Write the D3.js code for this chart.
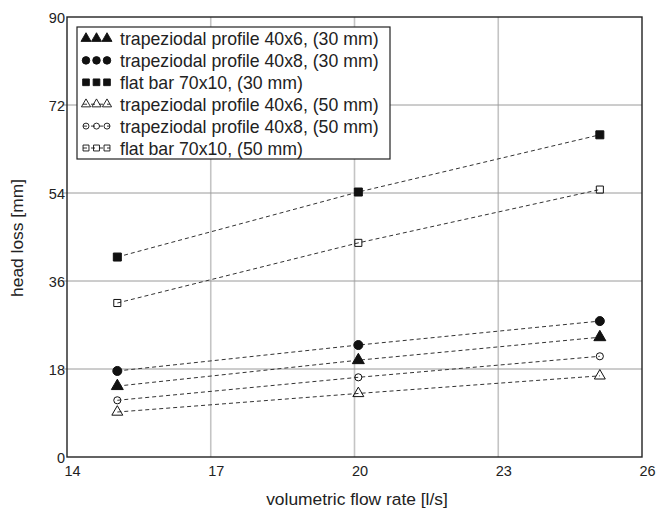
<!DOCTYPE html>
<html>
<head>
<meta charset="utf-8">
<script src="https://cdn.jsdelivr.net/npm/d3@7"></script>
<style>
  body { margin: 0; background: #fff; }
  svg { font-family: "Liberation Sans", Arial, sans-serif; }
</style>
</head>
<body>
<svg id="chart" width="656" height="513"></svg>
<script>
// flow rates (l/s) and head loss (mm)
const flow = [15.05, 20.08, 25.12]
const trap40x6_30 = [14.5, 19.8, 24.5]
const trap40x8_30 = [17.6, 22.9, 27.8]
const flat70x10_30 = [40.9, 54.2, 65.9]
const trap40x6_50 = [9.2, 13.0, 16.6]
const trap40x8_50 = [11.6, 16.3, 20.6]
const flat70x10_50 = [31.5, 43.8, 54.7]

const seriesNames = [
  'trapeziodal profile 40x6, (30 mm)',
  'trapeziodal profile 40x8, (30 mm)',
  'flat bar 70x10, (30 mm)',
  'trapeziodal profile 40x6, (50 mm)',
  'trapeziodal profile 40x8, (50 mm)',
  'flat bar 70x10, (50 mm)'
]
const xTicks = [14, 17, 20, 23, 26]
const yTicks = [0, 18, 36, 54, 72, 90]

const series = [
  { name: seriesNames[0], values: trap40x6_30, shape: d3.symbolTriangle, filled: true, size: 62 },
  { name: seriesNames[1], values: trap40x8_30, shape: d3.symbolCircle, filled: true, size: 64 },
  { name: seriesNames[2], values: flat70x10_30, shape: d3.symbolSquare, filled: true, size: 64 },
  { name: seriesNames[3], values: trap40x6_50, shape: d3.symbolTriangle, filled: false, size: 52 },
  { name: seriesNames[4], values: trap40x8_50, shape: d3.symbolCircle, filled: false, size: 40 },
  { name: seriesNames[5], values: flat70x10_50, shape: d3.symbolSquare, filled: false, size: 50 }
]

const svg = d3.select('#chart')
const plotL = 67, plotR = 642, plotT = 17, plotB = 457

const x = d3.scaleLinear().domain([14, 26]).range([plotL, plotR])
const y = d3.scaleLinear().domain([0, 90]).range([plotB, plotT])

// grid
svg.append('g')
  .selectAll('line')
  .data(xTicks.slice(1, -1))
  .enter()
  .append('line')
  .attr('x1', d => x(d)).attr('x2', d => x(d))
  .attr('y1', plotT).attr('y2', plotB)
  .attr('stroke', '#c4c4c4')
  .attr('stroke-width', 1.6)

svg.append('g')
  .selectAll('line')
  .data(yTicks.slice(1, -1))
  .enter()
  .append('line')
  .attr('x1', plotL - 5).attr('x2', plotR)
  .attr('y1', d => y(d)).attr('y2', d => y(d))
  .attr('stroke', '#9a9a9a')
  .attr('stroke-width', 1)

// frame
svg.append('rect')
  .attr('x', plotL).attr('y', plotT)
  .attr('width', plotR - plotL).attr('height', plotB - plotT)
  .attr('fill', 'none')
  .attr('stroke', '#222')
  .attr('stroke-width', 1.4)

// tick labels
svg.append('g')
  .selectAll('text')
  .data(xTicks)
  .enter()
  .append('text')
  .attr('x', d => x(d) + 5.5)
  .attr('y', 476)
  .attr('text-anchor', 'middle')
  .attr('font-size', 14.5)
  .attr('fill', '#222')
  .text(d => d)

svg.append('g')
  .selectAll('text')
  .data(yTicks)
  .enter()
  .append('text')
  .attr('x', plotL - 2)
  .attr('y', d => y(d) + 6)
  .attr('text-anchor', 'end')
  .attr('font-size', 14.5)
  .attr('fill', '#222')
  .text(d => d)

// axis titles
svg.append('text')
  .attr('x', 357).attr('y', 505)
  .attr('text-anchor', 'middle')
  .attr('font-size', 17.4)
  .attr('fill', '#222')
  .text('volumetric flow rate [l/s]')

svg.append('text')
  .attr('transform', 'translate(23,238) rotate(-90)')
  .attr('text-anchor', 'middle')
  .attr('font-size', 17.4)
  .attr('fill', '#222')
  .text('head loss [mm]')

// series
const line = d3.line().x((d, i) => x(flow[i])).y(d => y(d))
const symbol = s => d3.symbol().type(s.shape).size(s.size)()

series.forEach(s => {
  const g = svg.append('g')
  g.append('path')
    .datum(s.values)
    .attr('d', line)
    .attr('fill', 'none')
    .attr('stroke', '#333')
    .attr('stroke-width', 1)
    .attr('stroke-dasharray', '4,3')
  g.selectAll('path.pt')
    .data(s.values)
    .enter()
    .append('path')
    .attr('class', 'pt')
    .attr('transform', (d, i) => `translate(${x(flow[i])},${y(d)})`)
    .attr('d', symbol(s))
    .attr('fill', s.filled ? '#111' : 'none')
    .attr('stroke', '#111')
    .attr('stroke-width', 1)
})

// legend
const lg = svg.append('g')
lg.append('rect')
  .attr('x', 77).attr('y', 27)
  .attr('width', 313).attr('height', 132)
  .attr('fill', '#fff')
  .attr('stroke', '#222')
  .attr('stroke-width', 1.2)

series.forEach((s, i) => {
  const ly = 38.5 + i * 21.9
  const row = lg.append('g')
  if (!s.filled) {
    row.append('line')
      .attr('x1', 83).attr('x2', 110)
      .attr('y1', ly).attr('y2', ly)
      .attr('stroke', '#333')
      .attr('stroke-width', 1)
      .attr('stroke-dasharray', '4,4')
  }
  ;[86, 96.5, 107].forEach(cx => {
    row.append('path')
      .attr('transform', `translate(${cx},${ly})`)
      .attr('d', d3.symbol().type(s.shape).size(s.size * 0.7)())
      .attr('fill', s.filled ? '#111' : 'none')
      .attr('stroke', '#111')
      .attr('stroke-width', 0.9)
  })
  row.append('text')
    .attr('x', 120).attr('y', ly + 6.5)
    .attr('font-size', 17.7)
    .attr('fill', '#222')
    .text(s.name)
})
</script>
</body>
</html>
